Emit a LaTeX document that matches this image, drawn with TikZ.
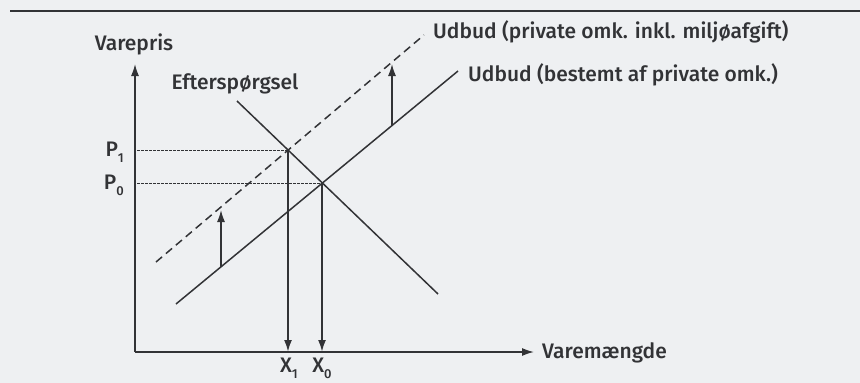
\documentclass[tikz,border=0pt]{standalone}
\usepackage{fontspec}
\setmainfont{Fira Sans}[UprightFont={* Medium}]
\usetikzlibrary{arrows.meta}
\definecolor{ink}{HTML}{323336}
\definecolor{paper}{HTML}{EEF0F2}
\newcommand{\lowidx}[1]{\raisebox{-0.3em}{\fontsize{13}{13}\selectfont #1}}
\begin{document}
\begin{tikzpicture}[x=1pt,y=-1pt,
  lbl/.style={font=\fontsize{21}{23}\selectfont, text=ink, inner sep=0pt},
  axis/.style={draw=ink, line width=1.5pt, -{Latex[length=12pt,width=8pt]}},
  curve/.style={draw=ink, line width=1.5pt},
  shiftarrow/.style={draw=ink, line width=1.5pt, -{Latex[length=12pt,width=8pt]}},
  guide/.style={draw=ink, line width=1pt, dash pattern=on 2.5pt off 1.5pt},
  drop/.style={draw=ink, line width=2pt, -{Latex[length=12pt,width=8pt]}},
  taxed/.style={draw=ink, line width=1.5pt, dash pattern=on 8pt off 5pt}]
\fill[paper] (0,0) rectangle (860,383);
\useasboundingbox (0,0) rectangle (860,383);
% top rule
\draw[draw=ink, line width=2pt] (10,11) -- (860,11);
% axes
\coordinate (O) at (135,352);
\coordinate (ytip) at (135,64);
\coordinate (xtip) at (534,352);
\draw[axis] (O) -- (ytip);
\draw[axis] (O) -- (xtip);
\node[lbl, anchor=base] (yl) at (134,50) {Varepris};
\node[lbl, anchor=base west] (xl) at (542,358) {Varemængde};
% key points
\coordinate (E0) at (322,183);
\coordinate (E1) at (288,150);
% demand
\coordinate (D1) at (237,101);
\coordinate (D2) at (438,294);
\draw[curve] (D1) -- (D2);
\node[lbl, anchor=base] (dl) at (235,89) {Efterspørgsel};
% supply (private costs)
\coordinate (S1) at (176,304);
\coordinate (S2) at (458,71);
\draw[curve] (S1) -- (S2);
\node[lbl, anchor=west] (sl) at (468,75) {Udbud (bestemt af private omk.)};
% supply incl. tax
\coordinate (T1) at (156,262);
\coordinate (T2) at (424,35);
\draw[taxed] (T1) -- (T2);
\node[lbl, anchor=west] (tl) at (433,32) {Udbud (private omk. inkl. miljøafgift)};
% shift arrows
\coordinate (a1) at (221,267);
\coordinate (a1t) at (221,210);
\coordinate (a2) at (392,125);
\coordinate (a2t) at (392,64);
\draw[shiftarrow] (a1) -- (a1t);
\draw[shiftarrow] (a2) -- (a2t);
% price guides
\coordinate (p1y) at (137,150);
\coordinate (p0y) at (137,183);
\draw[guide] (p1y) -- (E1);
\draw[guide] (p0y) -- (E0);
\node[lbl, anchor=base east] (P1) at (124,156) {P\lowidx{1}};
\node[lbl, anchor=base east] (P0) at (124,189) {P\lowidx{0}};
% quantity drops
\coordinate (x1b) at (288,352);
\coordinate (x0b) at (322,352);
\draw[drop] (E1) -- (x1b);
\draw[drop] (E0) -- (x0b);
\node[lbl, anchor=base] (X1) at (289,372) {X\lowidx{1}};
\node[lbl, anchor=base] (X0) at (322,372) {X\lowidx{0}};
\end{tikzpicture}
\end{document}
